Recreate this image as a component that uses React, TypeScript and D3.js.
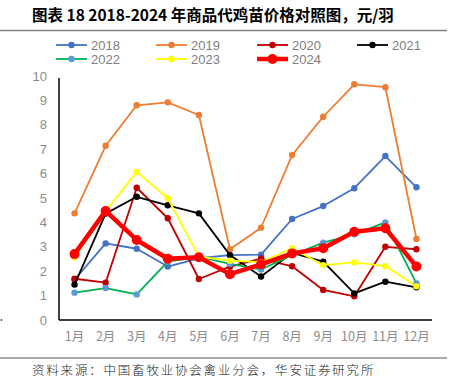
import React from "react";
import * as d3 from "d3";

const months = ["1月", "2月", "3月", "4月", "5月", "6月", "7月", "8月", "9月", "10月", "11月", "12月"];
const yTicks = [0, 1, 2, 3, 4, 5, 6, 7, 8, 9, 10];

const s2018 = [1.65, 3.14, 2.92, 2.19, 2.53, 2.66, 2.68, 4.14, 4.67, 5.4, 6.72, 5.44];
const s2019 = [4.37, 7.14, 8.8, 8.92, 8.4, 2.9, 3.78, 6.76, 8.33, 9.66, 9.54, 3.32];
const s2020 = [1.69, 1.53, 5.42, 4.17, 1.68, 2.19, 2.52, 2.2, 1.23, 0.97, 3.0, 2.9];
const s2021 = [1.45, 4.36, 5.05, 4.7, 4.37, 2.66, 1.78, 2.75, 2.39, 1.09, 1.57, 1.34];
const s2022 = [1.12, 1.31, 1.05, 2.39, 2.6, 2.3, 2.07, 2.66, 3.17, 3.51, 4.0, 1.5];
const s2023 = [2.57, 4.45, 6.07, 4.99, 2.6, 2.43, 2.37, 2.94, 2.25, 2.36, 2.21, 1.38];
const s2024 = [2.7, 4.47, 3.28, 2.51, 2.57, 1.88, 2.28, 2.73, 2.94, 3.62, 3.76, 2.19];

const seriesNames = ["2018", "2019", "2020", "2021", "2022", "2023", "2024"];

const series = [
  { name: seriesNames[0], values: s2018, line: "#4472C4", marker: "#4472C4", w: 1.8, r: 3.2 },
  { name: seriesNames[1], values: s2019, line: "#ED7D31", marker: "#ED7D31", w: 1.8, r: 3.2 },
  { name: seriesNames[2], values: s2020, line: "#C00000", marker: "#C00000", w: 1.8, r: 3.2 },
  { name: seriesNames[3], values: s2021, line: "#000000", marker: "#000000", w: 1.8, r: 3.2 },
  { name: seriesNames[4], values: s2022, line: "#00B050", marker: "#5B9BD5", w: 1.8, r: 3.2 },
  { name: seriesNames[5], values: s2023, line: "#FFFF00", marker: "#FFFF00", w: 1.8, r: 3.2 },
  { name: seriesNames[6], values: s2024, line: "#FF0000", marker: "#FF0000", w: 4.5, r: 5 },
];

const W = 454;
const H = 383;
const left = 59;
const right = 432;
const top = 76;
const bottom = 320;

export default function App() {
  const x = d3.scalePoint<string>().domain(months).range([left, right]).padding(0.5);
  const y = d3.scaleLinear().domain([0, 10]).range([bottom, top]);
  const line = d3
    .line<number>()
    .x((_, i) => x(months[i]) as number)
    .y((d) => y(d));

  const legendCols = [56, 156, 257, 357];
  const legendRows = [45, 59];
  const cjk = "'Noto Sans CJK SC', 'Liberation Sans', sans-serif";
  const sans = "'Liberation Sans', Arial, 'Noto Sans CJK SC', sans-serif";

  return (
    <svg
      width={W}
      height={H}
      style={{ position: "absolute", left: 0, top: 0, background: "#fff" }}
      xmlns="http://www.w3.org/2000/svg"
    >
      <rect x={0} y={0} width={W} height={H} fill="#fff" />
      <text x={32} y={20.5} fontFamily={cjk} fontWeight="bold" fontSize={15.5} fill="#000">
        图表 18 2018-2024 年商品代鸡苗价格对照图，元/羽
      </text>
      <line x1={0} x2={447} y1={30.5} y2={30.5} stroke="#7f7f7f" strokeWidth={1.5} />

      {series.map((s, i) => {
        const cx = legendCols[i % 4];
        const cy = legendRows[Math.floor(i / 4)];
        return (
          <g key={"lg" + s.name}>
            <line x1={cx} x2={cx + 31} y1={cy} y2={cy} stroke={s.line} strokeWidth={s.w} />
            <circle cx={cx + 15.5} cy={cy} r={s.r} fill={s.marker} />
            <text x={cx + 35} y={cy + 4.6} fontFamily={sans} fontSize={13} fill="#7f7f7f">
              {s.name}
            </text>
          </g>
        );
      })}

      {yTicks.map((t) => (
        <text
          key={"yt" + t}
          x={47}
          y={y(t) + 4.5}
          textAnchor="end"
          fontFamily={sans}
          fontSize={13}
          fill="#8c8c8c"
        >
          {t}
        </text>
      ))}
      {months.map((m) => (
        <text
          key={"xt" + m}
          x={x(m) as number}
          y={341}
          textAnchor="middle"
          fontFamily={cjk}
          fontSize={12.5}
          fill="#8c8c8c"
        >
          {m}
        </text>
      ))}

      {series.map((s) => (
        <g key={"s" + s.name}>
          <path d={line(s.values) || ""} fill="none" stroke={s.line} strokeWidth={s.w} strokeLinejoin="round" />
          {s.values.map((v, i) => (
            <circle key={i} cx={x(months[i]) as number} cy={y(v)} r={s.r} fill={s.marker} />
          ))}
        </g>
      ))}

      <line x1={left} x2={left} y1={top + 2} y2={bottom} stroke="#000" strokeWidth={1.5} />
      <line x1={left} x2={right} y1={bottom} y2={bottom} stroke="#000" strokeWidth={1.5} />

      <circle cx={1.5} cy={320} r={1} fill="#555" />
      <line x1={0} x2={447} y1={358} y2={358} stroke="#555" strokeWidth={1.2} />
      <text x={32} y={375} fontFamily={cjk} fontSize={12.5} fontWeight={300} letterSpacing={1.8} fill="#222">
        资料来源：中国畜牧业协会禽业分会，华安证券研究所
      </text>
    </svg>
  );
}
